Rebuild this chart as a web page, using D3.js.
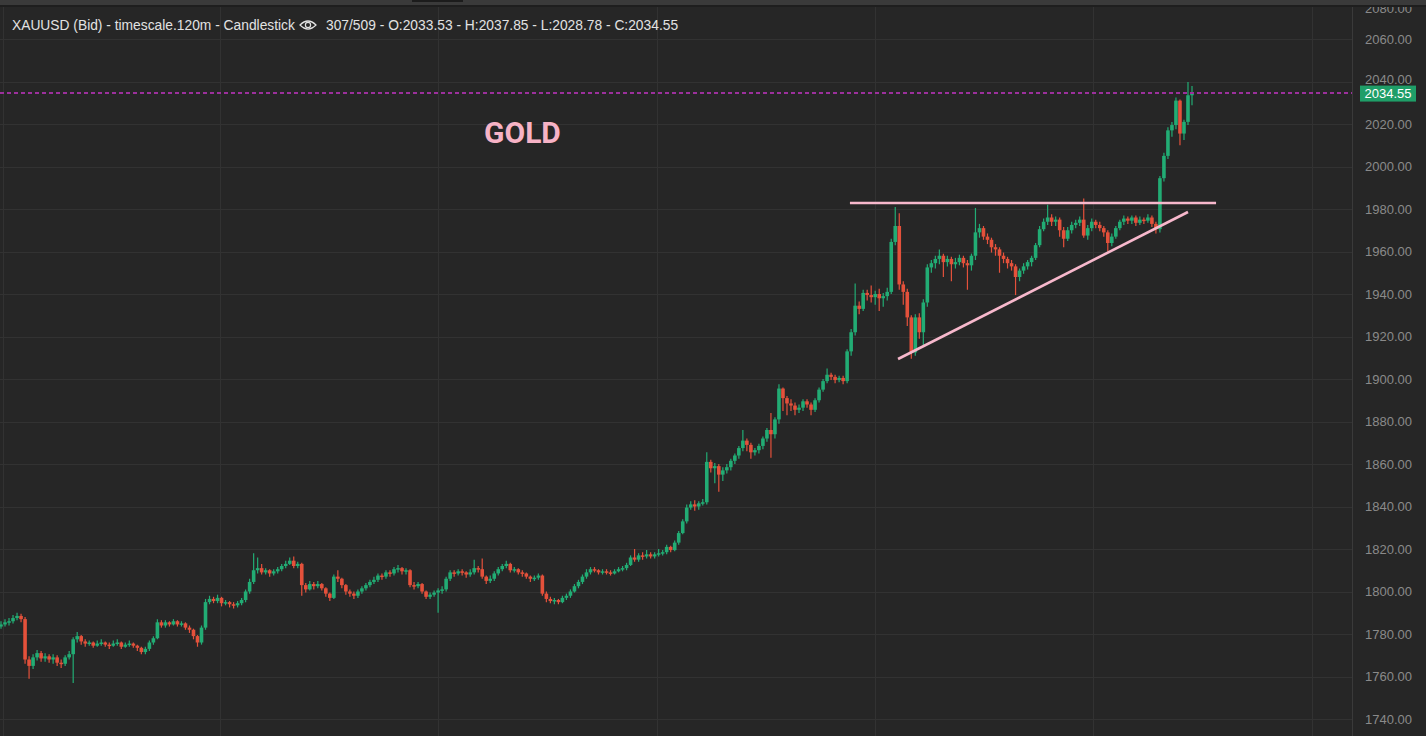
<!DOCTYPE html>
<html><head><meta charset="utf-8">
<script src="https://cdn.jsdelivr.net/npm/d3@7"></script>
<style>
html,body{margin:0;padding:0;background:#262626;overflow:hidden}
svg{display:block}
</style></head>
<body>
<svg id="chart" width="1426" height="736"></svg>
<script>
// ---------- DATA ----------
const firstOpen = 1783.5;
const closes = [
1784.5,1785.5,1786,1787.5,1788.5,1787,1768,1765,1769,1771,
1768.5,1769.5,1768,1769,1766.5,1766,1769,1770.5,1777.5,1779,
1776.5,1775.5,1776,1774.5,1775.5,1776,1775,1774.5,1775.5,1776,
1774,1775,1775.5,1774.5,1773.5,1771.5,1773,1776,1778,1785.5,
1784,1785.5,1784.5,1786,1784.5,1785,1783,1782,1779,1776,
1783,1795,1796.5,1795.5,1797,1794.5,1795,1794,1793.5,1794.5,
1796,1800,1804.5,1810,1811,1809,1810,1808.5,1809.5,1810.5,
1812,1813,1814.5,1812,1813,1803,1801,1803.5,1802.5,1803.5,
1801.5,1799,1797,1807,1806,1803,1800,1799,1798,1800,
1801.5,1803,1804.5,1805.5,1807.5,1807,1809,1808.5,1810.5,1811,
1809.5,1810,1803,1802.5,1803.5,1800,1797.5,1798.5,1799.5,1800.5,
1801,1806,1809,1808.5,1809.5,1809,1808,1809,1811,1810.5,
1807,1805,1806,1808.5,1810.5,1812,1813,1810,1810.5,1809,
1808.5,1807,1806,1806.5,1807.5,1799,1796.5,1795.5,1796,1795,
1797,1798,1800,1802.5,1804.5,1807,1809,1810.5,1810,1809,
1809.5,1809,1808.5,1809.5,1810.5,1811,1812.5,1816,1815,1817,
1816.5,1817.5,1816.5,1817.5,1818,1818.5,1821,1819.5,1823,1827.5,
1833,1839.5,1841,1840,1841.5,1842,1861,1858,1859,1855,
1857,1858.5,1861.5,1864,1867.5,1871,1869,1865.5,1866.5,1868.5,
1872,1876,1874,1881,1895.5,1891,1888.5,1887.5,1885.5,1886.5,
1889.5,1888,1885.5,1890,1895,1899,1902,1901,1899.5,1900.5,
1899,1913,1922,1934.5,1933,1940.5,1939.5,1938.5,1940,1938,
1939,1941,1964.5,1972,1944.5,1941,1929,1912.5,1929,1922,
1936,1952.5,1954.5,1956.5,1958,1955,1956.5,1954,1955,1957,
1954.5,1953.5,1958,1969,1971,1967,1965.5,1962,1961,1958,
1956.5,1954.5,1953,1948,1951,1953,1955,1957,1963,1970.5,
1974,1976,1974,1975,1970,1966,1970,1972.5,1973.5,1975,
1967.5,1971,1974,1972.5,1971,1969,1964,1967,1971,1974,
1975.5,1974.5,1976,1973.5,1975,1974.5,1976,1973,1970.5,1994.5,
2005,2017,2019.5,2031,2015.5,2021,2033.53,2034.55
];
const highs = [
1786,1787,1787.5,1789,1790,1789.5,1788,1769.5,1770.5,1772.5,
1772,1771,1770.5,1770.5,1770,1768,1770,1772,1778.5,1781,
1779.5,1777.5,1777,1776.5,1777,1777.5,1776.5,1776,1777,1777.5,
1776.5,1776,1777,1776,1775,1774,1774,1777,1779,1787,
1786.5,1786.5,1786,1787,1786.5,1786,1785.5,1784,1782.5,1779.5,
1784,1796.5,1798,1797.5,1798.5,1797.5,1796,1795.5,1795,1795.5,
1797,1801,1806,1818,1816,1813,1811,1810.5,1810.5,1811.5,
1813,1814.5,1816,1816.5,1814,1813.5,1804,1805,1804.5,1805,
1804,1802,1799.5,1808,1810,1806.5,1803.5,1801,1800,1801,
1802.5,1804,1805.5,1807,1808.5,1808.5,1810,1810,1811.5,1812.5,
1811.5,1811,1810.5,1804.5,1804.5,1804,1800.5,1799.5,1800.5,1801.5,
1802.5,1807,1810,1810,1810.5,1810.5,1809.5,1810.5,1815,1812,
1815.5,1807.5,1807.5,1809.5,1811.5,1813,1814.5,1813.5,1811.5,1811,
1810,1809,1807.5,1807.5,1808.5,1808,1800,1797.5,1797,1796.5,
1798,1799,1801,1803.5,1805.5,1808,1810.5,1811.5,1811.5,1810.5,
1810.5,1810.5,1810,1810.5,1811.5,1812,1813.5,1817,1820,1818,
1818.5,1819.5,1818.5,1818.5,1820,1819.5,1822,1821.5,1824,1828.5,
1834,1841,1842.5,1843,1842.5,1843.5,1865.5,1862,1860.5,1860,
1858.5,1860,1862.5,1865,1868.5,1876,1872,1870,1867.5,1869.5,
1873,1877,1884,1882,1897.5,1896,1892,1890.5,1889,1888,
1890.5,1890.5,1889,1891,1896,1900,1905,1903,1902,1901.5,
1901.5,1914,1923.5,1945,1936.5,1942,1942,1944,1941.5,1942.5,
1940.5,1943,1966,1981,1978,1946,1942.5,1930,1930.5,1931,
1937.5,1954,1956,1958,1961,1959,1958,1957.5,1957,1958.5,
1958,1956,1959,1980.5,1973,1972,1968.5,1966.5,1963.5,1962,
1959.5,1957.5,1956,1954,1952,1954.5,1956,1958,1964,1972,
1975.5,1982,1977.5,1976.5,1976,1971.5,1971.5,1974,1975,1976.5,
1985,1972.5,1975.5,1975,1974,1972,1970,1968.5,1972,1975,
1977,1976.5,1977,1977,1976.5,1976,1977.5,1977,1974,1995.5,
2006.5,2018.5,2021,2032.5,2031.5,2022,2039.8,2037.85
];
const lows = [
1782.5,1783.5,1784,1785,1786.5,1785.5,1766,1759,1763.5,1767.5,
1767,1767,1766.5,1766,1765,1764,1765,1768,1757,1776,
1775,1774,1774.5,1773.5,1774,1774.5,1774,1773,1774,1774.5,
1773,1773.5,1774,1773.5,1772,1770.5,1770.5,1772,1775,1777.5,
1783,1783,1783.5,1784,1783.5,1783.5,1782,1780.5,1777.5,1774,
1775,1782,1794,1794.5,1794.5,1793,1793.5,1792.5,1792,1792.5,
1793.5,1795,1799,1803.5,1808.5,1808,1808,1807,1807.5,1808.5,
1809.5,1811,1812.5,1811,1811,1798,1799.5,1800.5,1801,1801.5,
1800.5,1797.5,1795.5,1796.5,1804.5,1801.5,1798.5,1797.5,1796.5,1797,
1799,1800.5,1802,1803.5,1804.5,1805.5,1806,1807,1807.5,1809,
1808,1808,1802,1801,1801.5,1799,1796.5,1796.5,1797.5,1790,
1799,1800,1805,1807,1807.5,1807.5,1806.5,1807,1808,1809,
1806,1803.5,1804,1805,1807.5,1809.5,1811,1809,1809,1808,
1807,1806,1804.5,1805,1805.5,1798,1795,1794.5,1794,1794,
1794.5,1796,1797,1799.5,1801.5,1803.5,1806,1808,1809,1808,
1808,1808,1807.5,1808,1809,1809.5,1810,1812,1814,1814,
1815,1815.5,1815.5,1815.5,1816.5,1817,1817.5,1818.5,1819,1822,
1827,1832,1838.5,1838,1838.5,1840.5,1841,1856,1851,1847,
1852,1855.5,1857,1860,1862.5,1866,1866,1862.5,1864,1865,
1867,1870.5,1863,1872,1879,1885,1883,1885,1883,1884,
1885,1886.5,1883,1884.5,1889,1894,1898,1899.5,1898,1898.5,
1897.5,1898,1911,1920.5,1930.5,1932,1937,1936,1935,1932,
1934,1937,1940,1963,1942,1935,1925,1909.5,1911,1919,
1916,1934,1950,1952,1954,1948,1953,1946,1952,1953.5,
1952.5,1942,1951,1956,1966.5,1965.5,1963.5,1959.5,1958,1950,
1954.5,1952,1951,1939.5,1946,1949.5,1951.5,1953,1956,1962,
1969.5,1972.5,1972,1972,1967,1962,1965,1968.5,1971,1972,
1966.5,1965.5,1969.5,1971,1969.5,1967,1960,1962.5,1966,1970,
1972.5,1973,1973,1972,1972.5,1973,1973.5,1971.5,1968.5,1969,
1993,2003.5,2014,2017.5,2010,2012.5,2019.5,2028.78
];
const priceTicks = [1740,1760,1780,1800,1820,1840,1860,1880,1900,1920,1940,1960,1980,2000,2020,2040,2060,2080];
const timeGridIdx = [0.5, 54.6, 109, 163.6, 218, 272.4, 327];
const lastPrice = 2034.55;
const resistance = [[211.7, 1982.8], [303.0, 1982.8]];
const support = [[223.7, 1909.4], [296.0, 1978.6]];
const headerLeft = "XAUUSD (Bid) - timescale.120m - Candlestick";
const headerRight = "307/509 - O:2033.53 - H:2037.85 - L:2028.78 - C:2034.55";
const title = "GOLD";

// ---------- BUILD ----------
const opens = closes.map((c, i) => i === 0 ? firstOpen : closes[i - 1]);
const candles = closes.map((c, i) => ({i, o: opens[i], h: highs[i], l: lows[i], c}));

const W = 1426, H = 736, plotRight = 1352;
const svg = d3.select("#chart");
const GREEN = "#22ac74", RED = "#e4513b";

const x = d3.scaleLinear().domain([0, closes.length - 1]).range([1, 1192]);
const y = d3.scaleLinear().domain([1740, 2060]).range([719, 39]);

svg.append("rect").attr("width", W).attr("height", H).attr("fill", "#262626");

// grid
const grid = svg.append("g");
grid.selectAll("line.h").data(priceTicks).join("line")
  .attr("x1", 0).attr("x2", plotRight)
  .attr("y1", d => Math.round(y(d)) + 0.5).attr("y2", d => Math.round(y(d)) + 0.5)
  .attr("stroke", "#323232").attr("stroke-width", 1);
grid.selectAll("line.v").data(timeGridIdx).join("line")
  .attr("x1", d => Math.round(x(d)) + 0.5).attr("x2", d => Math.round(x(d)) + 0.5)
  .attr("y1", 7).attr("y2", H)
  .attr("stroke", "#323232").attr("stroke-width", 1);

// axis panel separator
svg.append("line").attr("x1", plotRight + 0.5).attr("x2", plotRight + 0.5)
  .attr("y1", 0).attr("y2", H).attr("stroke", "#3a3a3a");

// candles
const cg = svg.append("g");
cg.selectAll("line.wick").data(candles).join("line")
  .attr("x1", d => x(d.i)).attr("x2", d => x(d.i))
  .attr("y1", d => y(d.h)).attr("y2", d => y(d.l))
  .attr("stroke", d => d.c >= d.o ? GREEN : RED).attr("stroke-width", 1.2);
cg.selectAll("rect.body").data(candles).join("rect")
  .attr("x", d => x(d.i) - 1.8)
  .attr("width", 3.6)
  .attr("y", d => y(Math.max(d.o, d.c)))
  .attr("height", d => Math.max(1.5, Math.abs(y(d.o) - y(d.c))))
  .attr("fill", d => d.c >= d.o ? GREEN : RED);

// last price dashed line
svg.append("line").attr("x1", 0).attr("x2", plotRight)
  .attr("y1", Math.round(y(lastPrice))).attr("y2", Math.round(y(lastPrice)))
  .attr("stroke", "#9c309c").attr("stroke-width", 2).attr("stroke-dasharray", "4,3");

// drawn trend lines
const line = d3.line().x(d => x(d[0])).y(d => y(d[1]));
svg.append("path").attr("d", line(resistance)).attr("stroke", "#f7b8cc")
  .attr("stroke-width", 2.6).attr("fill", "none");
svg.append("path").attr("d", line(support)).attr("stroke", "#f7b8cc")
  .attr("stroke-width", 2.6).attr("fill", "none");

// title
svg.append("text").attr("x", 484).attr("y", 143).text(title)
  .attr("font-family", "Roboto, 'Liberation Sans', Arial, sans-serif")
  .attr("font-weight", "bold").attr("font-size", 30).attr("fill", "#f7b3c6");

// right axis
const axis = d3.axisRight(y).tickValues(priceTicks).tickSize(0).tickPadding(0)
  .tickFormat(d3.format(".2f"));
const ag = svg.append("g").attr("transform", `translate(1412,0)`).call(axis);
ag.select(".domain").remove();
ag.selectAll("text").attr("text-anchor", "end")
  .attr("font-family", "'Liberation Sans', Arial, sans-serif").attr("font-size", 13)
  .attr("fill", "#8a8a8a");
ag.selectAll(".tick").filter(d => d === 2080).attr("transform", "translate(0,9)");
ag.selectAll(".tick").filter(d => d === 2040).attr("transform", `translate(0,${y(2040) - 2})`);

// last price label
const ly = y(lastPrice);
svg.append("rect").attr("x", 1360).attr("y", ly - 7.5).attr("width", 56).attr("height", 16)
  .attr("fill", "#1f9e68");
svg.append("text").attr("x", 1388).attr("y", ly + 5).attr("text-anchor", "middle")
  .attr("font-family", "'Liberation Sans', Arial, sans-serif").attr("font-size", 13)
  .attr("fill", "#ffffff").text(lastPrice.toFixed(2));

// top bar
svg.append("rect").attr("x", 0).attr("y", 0).attr("width", W).attr("height", 5).attr("fill", "#3a3a3a");
svg.append("rect").attr("x", 0).attr("y", 5).attr("width", W).attr("height", 2).attr("fill", "#1e1e1e");
svg.append("rect").attr("x", 412).attr("y", 0).attr("width", 51).attr("height", 2).attr("fill", "#1c1c1c");

// header
const hf = "'Liberation Sans', Arial, sans-serif";
svg.append("text").attr("x", 12).attr("y", 30).text(headerLeft)
  .attr("font-family", hf).attr("font-size", 13.8).attr("fill", "#e2e2e2");
svg.append("path").attr("d", "M300,25 Q308,17 316,25 Q308,33 300,25 Z")
  .attr("fill", "none").attr("stroke", "#e2e2e2").attr("stroke-width", 1.2);
svg.append("circle").attr("cx", 308).attr("cy", 25).attr("r", 2.6)
  .attr("fill", "none").attr("stroke", "#e2e2e2").attr("stroke-width", 1.2);
svg.append("text").attr("x", 326).attr("y", 30).text(headerRight)
  .attr("font-family", hf).attr("font-size", 13.8).attr("fill", "#e2e2e2");
</script>
</body></html>
